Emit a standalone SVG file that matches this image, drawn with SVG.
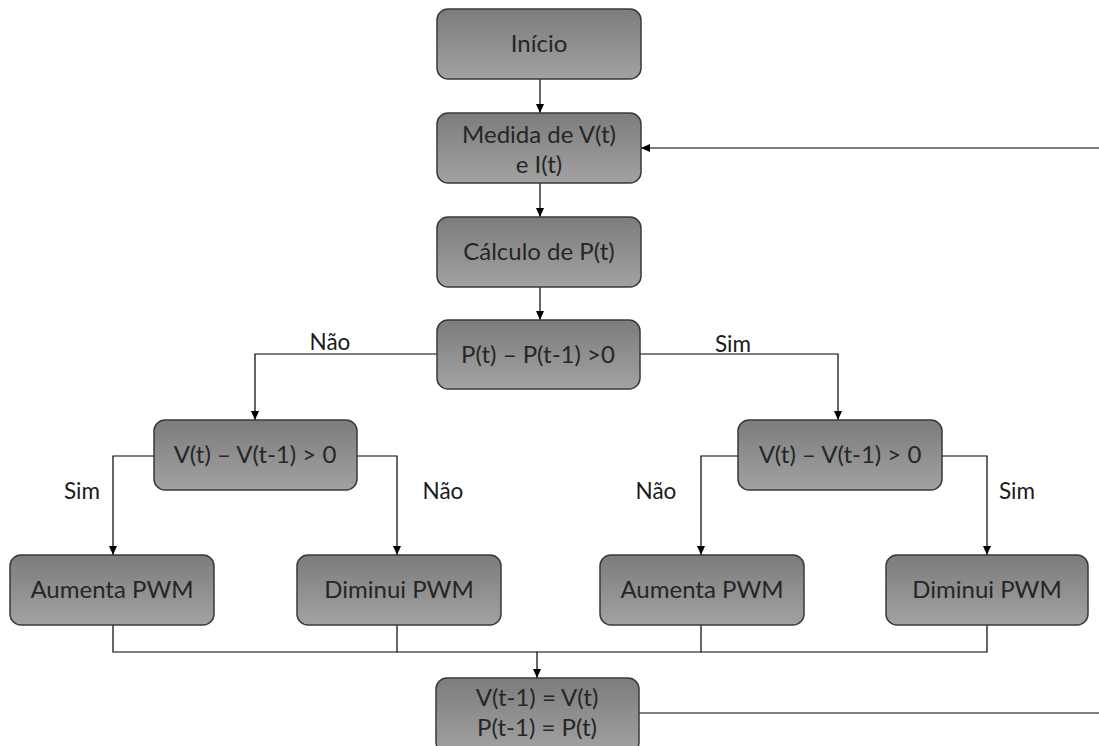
<svg xmlns="http://www.w3.org/2000/svg" width="1099" height="746" viewBox="0 0 1099 746">
<defs>
<linearGradient id="g" x1="0" y1="0" x2="0" y2="1">
<stop offset="0" stop-color="#7c7c7c"/>
<stop offset="1" stop-color="#a2a2a2"/>
</linearGradient>
<marker id="ah" markerWidth="10" markerHeight="10" refX="9" refY="5" orient="auto" markerUnits="userSpaceOnUse">
<path d="M0,1 L9,5 L0,9 Z" fill="#000"/>
</marker>
<style>
.box{fill:url(#g);stroke:#3a3a3a;stroke-width:1.5}
.t{font-family:Lato,"Open Sans",sans-serif;font-size:24px;fill:#262626;text-anchor:middle}
.l{font-family:Lato,"Open Sans",sans-serif;font-size:22.5px;fill:#1a1a1a;text-anchor:middle}
.c{fill:none;stroke:#000;stroke-width:1.2}
.a{marker-end:url(#ah)}
</style>
</defs>
<rect width="1099" height="746" fill="#fff"/>
<g id="connectors">
<path class="c a" d="M540,79 V113"/>
<path class="c a" d="M540,183 V217"/>
<path class="c a" d="M540,287 V320"/>
<path class="c a" d="M437,354 H255 V420"/>
<path class="c a" d="M640,354 H838 V420"/>
<path class="c a" d="M154,456 H113 V555"/>
<path class="c a" d="M357,456 H397 V555"/>
<path class="c a" d="M738,456 H701 V555"/>
<path class="c a" d="M942,456 H987 V555"/>
<path class="c" d="M113,625 V652 H987 V625"/>
<path class="c" d="M397,625 V652"/>
<path class="c" d="M701,625 V652"/>
<path class="c a" d="M537,652 V678"/>
<path class="c" d="M639,713 H1099"/>
<path class="c a" d="M1099,148 H641"/>
<text class="l" x="330" y="350">Não</text>
<text class="l" x="733" y="352">Sim</text>
<text class="l" x="82" y="499">Sim</text>
<text class="l" x="443" y="499">Não</text>
<text class="l" x="656" y="499">Não</text>
<text class="l" x="1017" y="499">Sim</text>
</g>
<g id="inicio"><rect class="box" x="437" y="9" width="204" height="70" rx="11"/><text class="t" x="539" y="52">Início</text></g>
<g id="medida"><rect class="box" x="437" y="113" width="204" height="70" rx="11"/><text class="t" x="539" y="143">Medida de V(t)</text><text class="t" x="539" y="173">e I(t)</text></g>
<g id="calculo"><rect class="box" x="437" y="217" width="204" height="70" rx="11"/><text class="t" x="539" y="260">Cálculo de P(t)</text></g>
<g id="decP"><rect class="box" x="437" y="320" width="203" height="69" rx="11"/><text class="t" x="538" y="363">P(t) – P(t-1) &gt;0</text></g>
<g id="decV1"><rect class="box" x="154" y="420" width="203" height="70" rx="11"/><text class="t" x="255" y="463">V(t) – V(t-1) &gt; 0</text></g>
<g id="decV2"><rect class="box" x="738" y="420" width="204" height="70" rx="11"/><text class="t" x="840" y="463">V(t) – V(t-1) &gt; 0</text></g>
<g id="aum1"><rect class="box" x="10" y="555" width="204" height="70" rx="11"/><text class="t" x="112" y="598">Aumenta PWM</text></g>
<g id="dim1"><rect class="box" x="297" y="555" width="204" height="70" rx="11"/><text class="t" x="399" y="598">Diminui PWM</text></g>
<g id="aum2"><rect class="box" x="600" y="555" width="204" height="70" rx="11"/><text class="t" x="702" y="598">Aumenta PWM</text></g>
<g id="dim2"><rect class="box" x="886" y="555" width="202" height="70" rx="11"/><text class="t" x="987" y="598">Diminui PWM</text></g>
<g id="atualiza"><rect class="box" x="436" y="678" width="203" height="75" rx="11"/><text class="t" x="537" y="706">V(t-1) = V(t)</text><text class="t" x="537" y="736">P(t-1) = P(t)</text></g>
</svg>
